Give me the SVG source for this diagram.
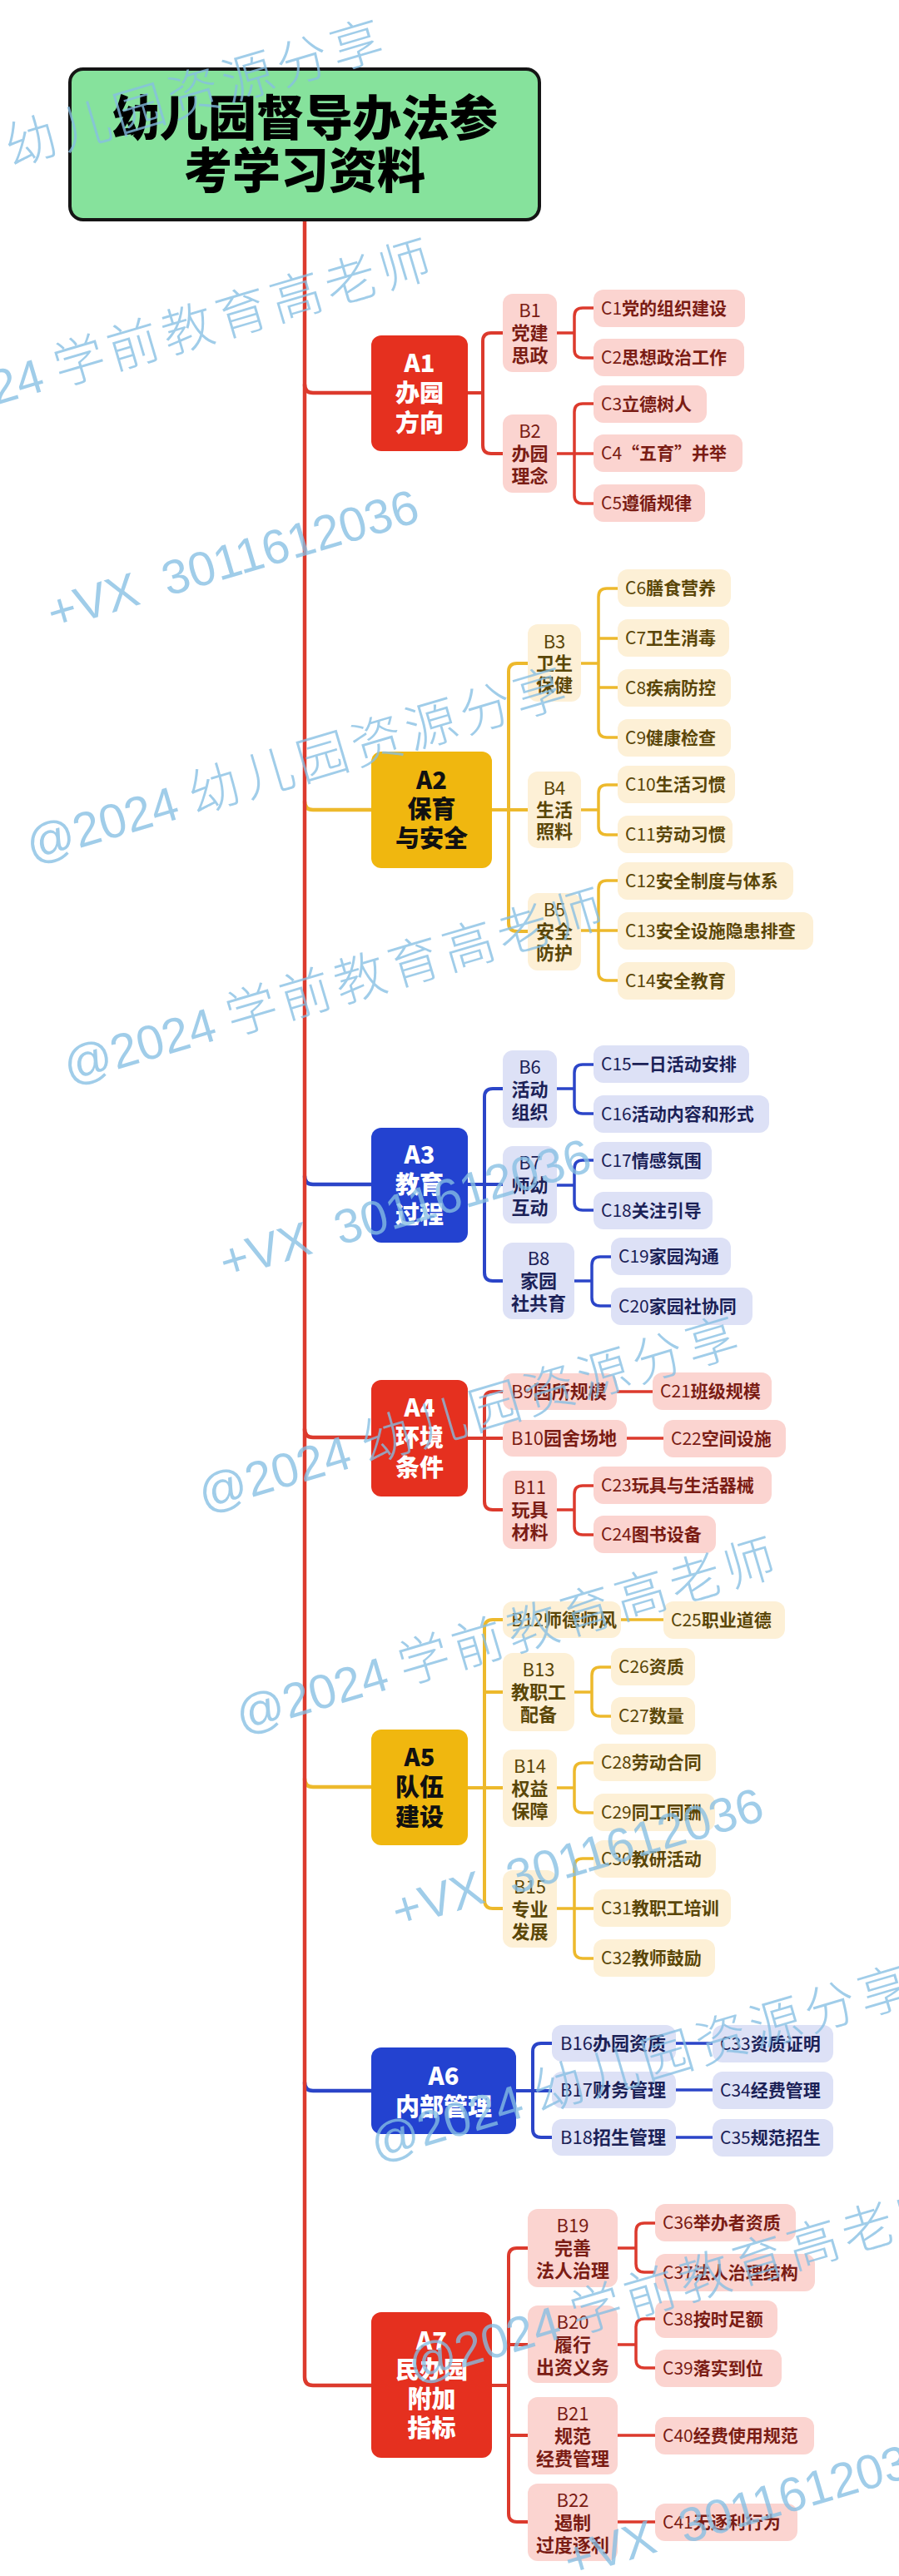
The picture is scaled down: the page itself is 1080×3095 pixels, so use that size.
<svg xmlns="http://www.w3.org/2000/svg" width="1080" height="3095" viewBox="0 0 1080 3095">
<style>
text{font-family:"Noto Sans CJK SC","Noto Sans",sans-serif}
.title{font-size:58px;font-weight:900;fill:#000;text-anchor:middle}
.at{font-size:29px;font-weight:900;text-anchor:middle}
.bt{font-size:22px;font-weight:700;text-anchor:middle}
.bl{font-size:22px;font-weight:700}
.ct{font-size:21px;font-weight:700}
.n{font-weight:400}
.ra{fill:#e5301f}.ya{fill:#f0b70f}.ba{fill:#2342d0}
.rb{fill:#fbd4d0}.yb{fill:#fdf0d6}.bb{fill:#dde1f6}
.rt{fill:#7a1c14}.yt{fill:#5a4608}.btx{fill:#1b2157}
.wt{fill:#fff}.kt{fill:#111}
.lr,.ly,.lb{fill:none;stroke-linecap:round;stroke-linejoin:round}
.lr{stroke:#dc3a2d}.ly{stroke:#edb92c}.lb{stroke:#2b45c8}
.w1{stroke-width:4.5}.w2{stroke-width:4}.w3{stroke-width:3.5}
text.wm{font-family:"Liberation Sans","Noto Sans CJK SC",sans-serif;font-size:58px;font-weight:400;fill:#86bfe4;opacity:.78}
.wm .cj{font-family:"Noto Sans CJK SC",sans-serif;font-size:62px;font-weight:300;letter-spacing:6px}
</style>
<rect width="1080" height="3095" fill="#fff"/>
<g id="connectors">
<path class="ly w1" d="M366,963 Q366,973 376,973 H446"/>
<path class="lb w1" d="M366,1413 Q366,1423 376,1423 H446"/>
<path class="lr w1" d="M366,1717 Q366,1727 376,1727 H446"/>
<path class="ly w1" d="M366,2137 Q366,2147 376,2147 H446"/>
<path class="lb w1" d="M366,2502 Q366,2512 376,2512 H446"/>
<path class="lr w1" d="M366,462 Q366,472 376,472 H446"/>
<path class="lr w1" d="M366,265 V2856 Q366,2866 376,2866 H446"/>
<path class="lr w2" d="M562,472 H580 M604,400 H590 Q580,400 580,410 V535 Q580,545 590,545 H604"/>
<path class="lr w3" d="M669,400 H690 M713,370 H700 Q690,370 690,380 V420 Q690,430 700,430 H713"/>
<path class="lr w3" d="M669,545 H713 M713,485 H700 Q690,485 690,495 V595 Q690,605 700,605 H713"/>
<path class="ly w2" d="M591,973 H634 M634,797 H621 Q611,797 611,807 V1109 Q611,1119 621,1119 H634"/>
<path class="ly w3" d="M698,797 H719 M742,707 H729 Q719,707 719,717 V876 Q719,886 729,886 H742 M719,767 H742 M719,826 H742"/>
<path class="ly w3" d="M698,973 H719 M742,943 H729 Q719,943 719,953 V993 Q719,1003 729,1003 H742"/>
<path class="ly w3" d="M698,1118 H742 M742,1058 H729 Q719,1058 719,1068 V1168 Q719,1178 729,1178 H742"/>
<path class="lb w2" d="M562,1423 H604 M604,1308 H592 Q582,1308 582,1318 V1529 Q582,1539 592,1539 H604"/>
<path class="lb w3" d="M669,1308 H690 M713,1279 H700 Q690,1279 690,1289 V1328 Q690,1338 700,1338 H713"/>
<path class="lb w3" d="M669,1424 H690 M713,1394 H700 Q690,1394 690,1404 V1444 Q690,1454 700,1454 H713"/>
<path class="lb w3" d="M690,1539 H711 M734,1510 H721 Q711,1510 711,1520 V1559 Q711,1569 721,1569 H734"/>
<path class="lr w2" d="M562,1728 H604 M604,1672 H592 Q582,1672 582,1682 V1804 Q582,1814 592,1814 H604"/>
<path class="lr w3" d="M741,1672 H784 M753,1728 H797"/>
<path class="lr w3" d="M669,1814 H690 M713,1785 H700 Q690,1785 690,1795 V1834 Q690,1844 700,1844 H713"/>
<path class="ly w2" d="M562,2148 H604 M604,1946 H592 Q582,1946 582,1956 V2283 Q582,2293 592,2293 H604 M582,2033 H604"/>
<path class="ly w3" d="M746,1946 H797"/>
<path class="ly w3" d="M690,2033 H711 M734,2003 H721 Q711,2003 711,2013 V2052 Q711,2062 721,2062 H734"/>
<path class="ly w3" d="M669,2148 H690 M713,2118 H700 Q690,2118 690,2128 V2168 Q690,2178 700,2178 H713"/>
<path class="ly w3" d="M669,2293 H713 M713,2233 H700 Q690,2233 690,2243 V2343 Q690,2353 700,2353 H713"/>
<path class="lb w2" d="M620,2512 H663 M663,2455 H650 Q640,2455 640,2465 V2558 Q640,2568 650,2568 H663"/>
<path class="lb w3" d="M812,2455 H856 M812,2511 H856 M812,2568 H856"/>
<path class="lr w2" d="M591,2866 H611 M634,2701 H621 Q611,2701 611,2711 V3020 Q611,3030 621,3030 H634 M611,2817 H634 M611,2926 H634"/>
<path class="lr w3" d="M742,2701 H764 M787,2671 H774 Q764,2671 764,2681 V2720 Q764,2730 774,2730 H787"/>
<path class="lr w3" d="M742,2817 H764 M787,2786 H774 Q764,2786 764,2796 V2835 Q764,2845 774,2845 H787"/>
<path class="lr w3" d="M742,2926 H787 M742,3030 H787"/>
</g>

<g id="root">
<rect x="84" y="83" width="564" height="181" rx="16" fill="#86e29c" stroke="#151515" stroke-width="4"/>
<text class="title" x="366" y="163">幼儿园督导办法参</text>
<text class="title" x="366" y="226">考学习资料</text>
</g>

<g id="A1"><rect class="ra" x="446" y="403" width="116" height="139" rx="12"/>
<text class="at wt"><tspan x="504" y="447">A1</tspan><tspan x="504" y="483">办园</tspan><tspan x="504" y="519">方向</tspan></text></g>
<g id="A2"><rect class="ya" x="446" y="903" width="145" height="140" rx="12"/>
<text class="at kt"><tspan x="518.5" y="948">A2</tspan><tspan x="518.5" y="983">保育</tspan><tspan x="518.5" y="1018">与安全</tspan></text></g>
<g id="A3"><rect class="ba" x="446" y="1355" width="116" height="138" rx="12"/>
<text class="at wt"><tspan x="504" y="1398">A3</tspan><tspan x="504" y="1434">教育</tspan><tspan x="504" y="1470">过程</tspan></text></g>
<g id="A4"><rect class="ra" x="446" y="1658" width="116" height="140" rx="12"/>
<text class="at wt"><tspan x="504" y="1702">A4</tspan><tspan x="504" y="1738">环境</tspan><tspan x="504" y="1774">条件</tspan></text></g>
<g id="A5"><rect class="ya" x="446" y="2078" width="116" height="139" rx="12"/>
<text class="at kt"><tspan x="504" y="2122">A5</tspan><tspan x="504" y="2158">队伍</tspan><tspan x="504" y="2194">建设</tspan></text></g>
<g id="A6"><rect class="ba" x="446" y="2460" width="174" height="104" rx="12"/>
<text class="at wt"><tspan x="533" y="2505">A6</tspan><tspan x="533" y="2542">内部管理</tspan></text></g>
<g id="A7"><rect class="ra" x="446" y="2778" width="145" height="175" rx="12"/>
<text class="at wt"><tspan x="518.5" y="2823">A7</tspan><tspan x="518.5" y="2858">民办园</tspan><tspan x="518.5" y="2893">附加</tspan><tspan x="518.5" y="2928">指标</tspan></text></g>

<g id="B1"><rect class="rb" x="604" y="353" width="65" height="94" rx="12"/>
<text class="bt rt"><tspan class="n" x="636.5" y="381">B1</tspan><tspan x="636.5" y="408">党建</tspan><tspan x="636.5" y="435">思政</tspan></text></g>
<g id="B2"><rect class="rb" x="604" y="498" width="65" height="94" rx="12"/>
<text class="bt rt"><tspan class="n" x="636.5" y="526">B2</tspan><tspan x="636.5" y="553">办园</tspan><tspan x="636.5" y="580">理念</tspan></text></g>
<g id="B3"><rect class="yb" x="634" y="750" width="64" height="93" rx="12"/>
<text class="bt yt"><tspan class="n" x="666" y="779">B3</tspan><tspan x="666" y="805">卫生</tspan><tspan x="666" y="831">保健</tspan></text></g>
<g id="B4"><rect class="yb" x="634" y="927" width="64" height="92" rx="12"/>
<text class="bt yt"><tspan class="n" x="666" y="955">B4</tspan><tspan x="666" y="981">生活</tspan><tspan x="666" y="1007">照料</tspan></text></g>
<g id="B5"><rect class="yb" x="634" y="1073" width="64" height="93" rx="12"/>
<text class="bt yt"><tspan class="n" x="666" y="1101">B5</tspan><tspan x="666" y="1127">安全</tspan><tspan x="666" y="1153">防护</tspan></text></g>
<g id="B6"><rect class="bb" x="604" y="1262" width="65" height="93" rx="12"/>
<text class="bt btx"><tspan class="n" x="636.5" y="1290">B6</tspan><tspan x="636.5" y="1317">活动</tspan><tspan x="636.5" y="1344">组织</tspan></text></g>
<g id="B7"><rect class="bb" x="604" y="1377" width="65" height="93" rx="12"/>
<text class="bt btx"><tspan class="n" x="636.5" y="1405">B7</tspan><tspan x="636.5" y="1432">师幼</tspan><tspan x="636.5" y="1459">互动</tspan></text></g>
<g id="B8"><rect class="bb" x="604" y="1493" width="86" height="92" rx="12"/>
<text class="bt btx"><tspan class="n" x="647" y="1520">B8</tspan><tspan x="647" y="1547">家园</tspan><tspan x="647" y="1574">社共育</tspan></text></g>
<g id="B9"><rect class="rb" x="604" y="1650" width="137" height="44" rx="12"/>
<text class="bl rt" x="614" y="1680"><tspan class="n">B9</tspan>园所规模</text></g>
<g id="B10"><rect class="rb" x="604" y="1706" width="149" height="44" rx="12"/>
<text class="bl rt" x="614" y="1736"><tspan class="n">B10</tspan>园舍场地</text></g>
<g id="B11"><rect class="rb" x="604" y="1767" width="65" height="94" rx="12"/>
<text class="bt rt"><tspan class="n" x="636.5" y="1795">B11</tspan><tspan x="636.5" y="1822">玩具</tspan><tspan x="636.5" y="1849">材料</tspan></text></g>
<g id="B12"><rect class="yb" x="604" y="1924" width="142" height="44" rx="12"/>
<text class="bl yt" x="614" y="1954"><tspan class="n">B12</tspan>师德师风</text></g>
<g id="B13"><rect class="yb" x="604" y="1986" width="86" height="94" rx="12"/>
<text class="bt yt"><tspan class="n" x="647" y="2014">B13</tspan><tspan x="647" y="2041">教职工</tspan><tspan x="647" y="2068">配备</tspan></text></g>
<g id="B14"><rect class="yb" x="604" y="2102" width="65" height="93" rx="12"/>
<text class="bt yt"><tspan class="n" x="636.5" y="2130">B14</tspan><tspan x="636.5" y="2157">权益</tspan><tspan x="636.5" y="2184">保障</tspan></text></g>
<g id="B15"><rect class="yb" x="604" y="2247" width="65" height="93" rx="12"/>
<text class="bt yt"><tspan class="n" x="636.5" y="2275">B15</tspan><tspan x="636.5" y="2302">专业</tspan><tspan x="636.5" y="2329">发展</tspan></text></g>
<g id="B16"><rect class="bb" x="663" y="2433" width="149" height="44" rx="12"/>
<text class="bl btx" x="673" y="2463"><tspan class="n">B16</tspan>办园资质</text></g>
<g id="B17"><rect class="bb" x="663" y="2489" width="149" height="44" rx="12"/>
<text class="bl btx" x="673" y="2519"><tspan class="n">B17</tspan>财务管理</text></g>
<g id="B18"><rect class="bb" x="663" y="2546" width="149" height="44" rx="12"/>
<text class="bl btx" x="673" y="2576"><tspan class="n">B18</tspan>招生管理</text></g>
<g id="B19"><rect class="rb" x="634" y="2654" width="108" height="94" rx="12"/>
<text class="bt rt"><tspan class="n" x="688" y="2682">B19</tspan><tspan x="688" y="2709">完善</tspan><tspan x="688" y="2736">法人治理</tspan></text></g>
<g id="B20"><rect class="rb" x="634" y="2770" width="108" height="93" rx="12"/>
<text class="bt rt"><tspan class="n" x="688" y="2798">B20</tspan><tspan x="688" y="2825">履行</tspan><tspan x="688" y="2852">出资义务</tspan></text></g>
<g id="B21"><rect class="rb" x="634" y="2880" width="108" height="93" rx="12"/>
<text class="bt rt"><tspan class="n" x="688" y="2908">B21</tspan><tspan x="688" y="2935">规范</tspan><tspan x="688" y="2962">经费管理</tspan></text></g>
<g id="B22"><rect class="rb" x="634" y="2984" width="108" height="93" rx="12"/>
<text class="bt rt"><tspan class="n" x="688" y="3012">B22</tspan><tspan x="688" y="3039">遏制</tspan><tspan x="688" y="3066">过度逐利</tspan></text></g>

<g id="C1"><rect class="rb" x="713" y="348" width="182" height="45" rx="12"/><text class="ct rt" x="722" y="378"><tspan class="n">C1</tspan>党的组织建设</text></g>
<g id="C2"><rect class="rb" x="713" y="407" width="181" height="45" rx="12"/><text class="ct rt" x="722" y="437"><tspan class="n">C2</tspan>思想政治工作</text></g>
<g id="C3"><rect class="rb" x="713" y="463" width="136" height="45" rx="12"/><text class="ct rt" x="722" y="493"><tspan class="n">C3</tspan>立德树人</text></g>
<g id="C4"><rect class="rb" x="713" y="522" width="179" height="45" rx="12"/><text class="ct rt" x="722" y="552"><tspan class="n">C4</tspan>“五育”并举</text></g>
<g id="C5"><rect class="rb" x="713" y="582" width="134" height="45" rx="12"/><text class="ct rt" x="722" y="612"><tspan class="n">C5</tspan>遵循规律</text></g>
<g id="C6"><rect class="yb" x="742" y="684" width="136" height="45" rx="12"/><text class="ct yt" x="751" y="714"><tspan class="n">C6</tspan>膳食营养</text></g>
<g id="C7"><rect class="yb" x="742" y="744" width="134" height="45" rx="12"/><text class="ct yt" x="751" y="774"><tspan class="n">C7</tspan>卫生消毒</text></g>
<g id="C8"><rect class="yb" x="742" y="804" width="136" height="45" rx="12"/><text class="ct yt" x="751" y="834"><tspan class="n">C8</tspan>疾病防控</text></g>
<g id="C9"><rect class="yb" x="742" y="864" width="136" height="45" rx="12"/><text class="ct yt" x="751" y="894"><tspan class="n">C9</tspan>健康检查</text></g>
<g id="C10"><rect class="yb" x="742" y="920" width="141" height="45" rx="12"/><text class="ct yt" x="751" y="950"><tspan class="n">C10</tspan>生活习惯</text></g>
<g id="C11"><rect class="yb" x="742" y="980" width="138" height="45" rx="12"/><text class="ct yt" x="751" y="1010"><tspan class="n">C11</tspan>劳动习惯</text></g>
<g id="C12"><rect class="yb" x="742" y="1036" width="211" height="45" rx="12"/><text class="ct yt" x="751" y="1066"><tspan class="n">C12</tspan>安全制度与体系</text></g>
<g id="C13"><rect class="yb" x="742" y="1096" width="235" height="45" rx="12"/><text class="ct yt" x="751" y="1126"><tspan class="n">C13</tspan>安全设施隐患排查</text></g>
<g id="C14"><rect class="yb" x="742" y="1156" width="141" height="45" rx="12"/><text class="ct yt" x="751" y="1186"><tspan class="n">C14</tspan>安全教育</text></g>
<g id="C15"><rect class="bb" x="713" y="1256" width="187" height="45" rx="12"/><text class="ct btx" x="722" y="1286"><tspan class="n">C15</tspan>一日活动安排</text></g>
<g id="C16"><rect class="bb" x="713" y="1316" width="211" height="45" rx="12"/><text class="ct btx" x="722" y="1346"><tspan class="n">C16</tspan>活动内容和形式</text></g>
<g id="C17"><rect class="bb" x="713" y="1372" width="142" height="45" rx="12"/><text class="ct btx" x="722" y="1402"><tspan class="n">C17</tspan>情感氛围</text></g>
<g id="C18"><rect class="bb" x="713" y="1432" width="143" height="45" rx="12"/><text class="ct btx" x="722" y="1462"><tspan class="n">C18</tspan>关注引导</text></g>
<g id="C19"><rect class="bb" x="734" y="1487" width="144" height="45" rx="12"/><text class="ct btx" x="743" y="1517"><tspan class="n">C19</tspan>家园沟通</text></g>
<g id="C20"><rect class="bb" x="734" y="1547" width="170" height="45" rx="12"/><text class="ct btx" x="743" y="1577"><tspan class="n">C20</tspan>家园社协同</text></g>
<g id="C21"><rect class="rb" x="784" y="1649" width="143" height="45" rx="12"/><text class="ct rt" x="793" y="1679"><tspan class="n">C21</tspan>班级规模</text></g>
<g id="C22"><rect class="rb" x="797" y="1706" width="147" height="45" rx="12"/><text class="ct rt" x="806" y="1736"><tspan class="n">C22</tspan>空间设施</text></g>
<g id="C23"><rect class="rb" x="713" y="1762" width="214" height="45" rx="12"/><text class="ct rt" x="722" y="1792"><tspan class="n">C23</tspan>玩具与生活器械</text></g>
<g id="C24"><rect class="rb" x="713" y="1821" width="147" height="45" rx="12"/><text class="ct rt" x="722" y="1851"><tspan class="n">C24</tspan>图书设备</text></g>
<g id="C25"><rect class="yb" x="797" y="1924" width="146" height="45" rx="12"/><text class="ct yt" x="806" y="1954"><tspan class="n">C25</tspan>职业道德</text></g>
<g id="C26"><rect class="yb" x="734" y="1980" width="101" height="45" rx="12"/><text class="ct yt" x="743" y="2010"><tspan class="n">C26</tspan>资质</text></g>
<g id="C27"><rect class="yb" x="734" y="2039" width="101" height="45" rx="12"/><text class="ct yt" x="743" y="2069"><tspan class="n">C27</tspan>数量</text></g>
<g id="C28"><rect class="yb" x="713" y="2095" width="147" height="45" rx="12"/><text class="ct yt" x="722" y="2125"><tspan class="n">C28</tspan>劳动合同</text></g>
<g id="C29"><rect class="yb" x="713" y="2155" width="146" height="45" rx="12"/><text class="ct yt" x="722" y="2185"><tspan class="n">C29</tspan>同工同酬</text></g>
<g id="C30"><rect class="yb" x="713" y="2211" width="147" height="45" rx="12"/><text class="ct yt" x="722" y="2241"><tspan class="n">C30</tspan>教研活动</text></g>
<g id="C31"><rect class="yb" x="713" y="2270" width="165" height="45" rx="12"/><text class="ct yt" x="722" y="2300"><tspan class="n">C31</tspan>教职工培训</text></g>
<g id="C32"><rect class="yb" x="713" y="2330" width="146" height="45" rx="12"/><text class="ct yt" x="722" y="2360"><tspan class="n">C32</tspan>教师鼓励</text></g>
<g id="C33"><rect class="bb" x="856" y="2433" width="145" height="45" rx="12"/><text class="ct btx" x="865" y="2463"><tspan class="n">C33</tspan>资质证明</text></g>
<g id="C34"><rect class="bb" x="856" y="2489" width="145" height="45" rx="12"/><text class="ct btx" x="865" y="2519"><tspan class="n">C34</tspan>经费管理</text></g>
<g id="C35"><rect class="bb" x="856" y="2546" width="145" height="45" rx="12"/><text class="ct btx" x="865" y="2576"><tspan class="n">C35</tspan>规范招生</text></g>
<g id="C36"><rect class="rb" x="787" y="2648" width="169" height="45" rx="12"/><text class="ct rt" x="796" y="2678"><tspan class="n">C36</tspan>举办者资质</text></g>
<g id="C37"><rect class="rb" x="787" y="2708" width="192" height="45" rx="12"/><text class="ct rt" x="796" y="2738"><tspan class="n">C37</tspan>法人治理结构</text></g>
<g id="C38"><rect class="rb" x="787" y="2764" width="147" height="45" rx="12"/><text class="ct rt" x="796" y="2794"><tspan class="n">C38</tspan>按时足额</text></g>
<g id="C39"><rect class="rb" x="787" y="2823" width="152" height="45" rx="12"/><text class="ct rt" x="796" y="2853"><tspan class="n">C39</tspan>落实到位</text></g>
<g id="C40"><rect class="rb" x="787" y="2904" width="191" height="45" rx="12"/><text class="ct rt" x="796" y="2934"><tspan class="n">C40</tspan>经费使用规范</text></g>
<g id="C41"><rect class="rb" x="787" y="3008" width="171" height="45" rx="12"/><text class="ct rt" x="796" y="3038"><tspan class="n">C41</tspan>无逐利行为</text></g>

<g id="watermarks">
<text class="wm" transform="translate(-182,258) rotate(-16.5)">@2024 <tspan class="cj">幼儿园资源分享</tspan></text>
<text class="wm" transform="translate(-124,522) rotate(-16.5)">@2024 <tspan class="cj">学前教育高老师</tspan></text>
<text class="wm" transform="translate(64,757) rotate(-16.5)">+VX <tspan dx="16">3011612036</tspan></text>
<text class="wm" transform="translate(38,1036) rotate(-16.5)">@2024 <tspan class="cj">幼儿园资源分享</tspan></text>
<text class="wm" transform="translate(83,1302) rotate(-16.5)">@2024 <tspan class="cj">学前教育高老师</tspan></text>
<text class="wm" transform="translate(271,1537) rotate(-16.5)">+VX <tspan dx="16">3011612036</tspan></text>
<text class="wm" transform="translate(245,1816) rotate(-16.5)">@2024 <tspan class="cj">幼儿园资源分享</tspan></text>
<text class="wm" transform="translate(290,2082) rotate(-16.5)">@2024 <tspan class="cj">学前教育高老师</tspan></text>
<text class="wm" transform="translate(478,2317) rotate(-16.5)">+VX <tspan dx="16">3011612036</tspan></text>
<text class="wm" transform="translate(452,2596) rotate(-16.5)">@2024 <tspan class="cj">幼儿园资源分享</tspan></text>
<text class="wm" transform="translate(497,2862) rotate(-16.5)">@2024 <tspan class="cj">学前教育高老师</tspan></text>
<text class="wm" transform="translate(685,3097) rotate(-16.5)">+VX <tspan dx="16">3011612036</tspan></text>
</g>
</svg>
